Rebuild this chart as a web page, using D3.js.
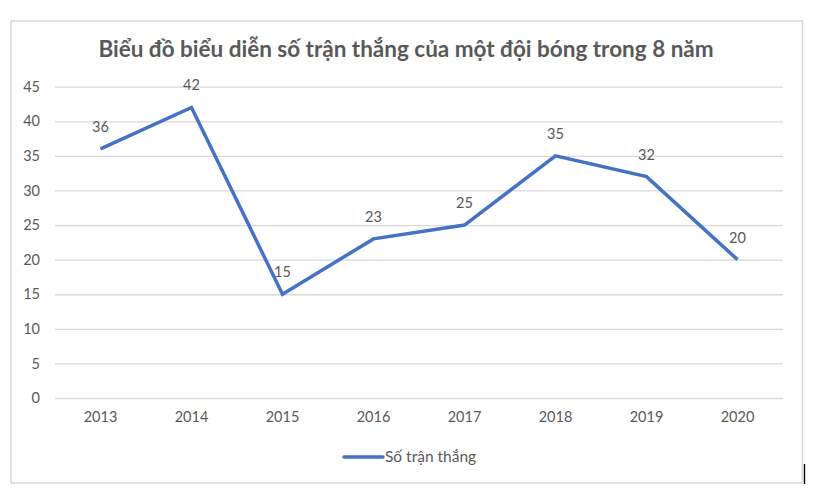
<!DOCTYPE html>
<html><head><meta charset="utf-8">
<script src="https://cdn.jsdelivr.net/npm/d3@7"></script>
<style>body{margin:0;background:#fff;}svg{display:block;font-family:Lato,"Open Sans",sans-serif;}</style>
</head><body>
<svg id="c" width="836" height="500"></svg>
<script>
const years = ["2013","2014","2015","2016","2017","2018","2019","2020"];
const wins = [36, 42, 15, 23, 25, 35, 32, 20];
const yTicks = [0,5,10,15,20,25,30,35,40,45];
const title = "Biểu đồ biểu diễn số trận thắng của một đội bóng trong 8 năm";
const seriesName = "Số trận thắng";

const svg = d3.select("#c");
const m = {left:55, right:783, top:86.7, bottom:398};
const x = d3.scaleBand().domain(years).range([m.left, m.right]);
const y = d3.scaleLinear().domain([0,45]).range([m.bottom, m.top]);
const textColor = "#595959";
const lineColor = "#4472C4";

svg.append("rect").attr("x",11).attr("y",21).attr("width",791.5).attr("height",462)
  .attr("fill","#fff").attr("stroke","#d9d9d9").attr("stroke-width",1.5);

svg.append("text").attr("x",406).attr("y",57).attr("text-anchor","middle")
  .attr("font-size",22.5).attr("font-weight","bold").attr("fill",textColor).text(title);

const yAxis = d3.axisLeft(y).tickValues(yTicks).tickSize(-(m.right-m.left)).tickPadding(15);
const gy = svg.append("g").attr("transform",`translate(${m.left},0)`).call(yAxis);
gy.select(".domain").remove();
gy.selectAll(".tick line").attr("stroke","#d9d9d9").attr("stroke-width",1.3);
gy.selectAll(".tick text").attr("fill",textColor).attr("font-size",14.5).attr("font-family","Lato, 'Open Sans', sans-serif");

const xAxis = d3.axisBottom(x).tickSize(0).tickPadding(14);
const gx = svg.append("g").attr("transform",`translate(0,${m.bottom})`).call(xAxis);
gx.select(".domain").remove();
gx.selectAll(".tick text").attr("fill",textColor).attr("font-size",14.5).attr("font-family","Lato, 'Open Sans', sans-serif");

const cx = d => x(d) + x.bandwidth()/2;
const line = d3.line().x((d,i)=>cx(years[i])).y(d=>y(d));
svg.append("path").datum(wins).attr("d",line).attr("fill","none")
  .attr("stroke",lineColor).attr("stroke-width",3.5).attr("stroke-linejoin","miter");

svg.selectAll(".lbl").data(wins).enter().append("text").attr("class","lbl")
  .attr("x",(d,i)=>cx(years[i])).attr("y",d=>y(d)-17)
  .attr("text-anchor","middle").attr("font-size",14.5).attr("fill",textColor).text(d=>d);

svg.append("line").attr("x1",344).attr("x2",383).attr("y1",457).attr("y2",457)
  .attr("stroke",lineColor).attr("stroke-width",3.5).attr("stroke-linecap","round");
svg.append("text").attr("x",385).attr("y",462).attr("font-size",15.5).attr("fill",textColor).text(seriesName);

svg.append("line").attr("x1",804.5).attr("x2",804.5).attr("y1",464).attr("y2",484)
  .attr("stroke","#000").attr("stroke-width",1.3);
</script>
</body></html>
